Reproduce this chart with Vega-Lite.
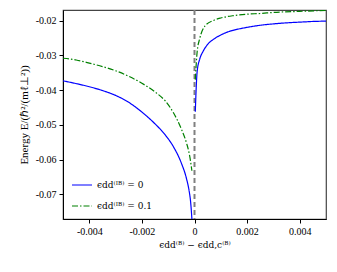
{
  "$schema": "https://vega.github.io/schema/vega-lite/v6.json",
  "width": 263,
  "height": 209,
  "autosize": "none",
  "padding": {"left": 63, "top": 10, "right": 11, "bottom": 53},
  "config": {
    "font": "Liberation Serif",
    "view": {"stroke": "#444444", "strokeWidth": 1.2},
    "axis": {"labelFont": "Liberation Serif", "titleFont": "DejaVu Serif", "labelFontSize": 10, "titleFontSize": 10, "titleFontWeight": "normal", "labelColor": "#000", "titleColor": "#000", "domainColor": "#000", "tickColor": "#000", "grid": false}
  },
  "datasets": {
    "curves": [
      {"x": -0.005, "y": -0.0373, "s": "ϵdd⁽ᴵᴮ⁾ = 0", "b": "BL"},
      {"x": -0.0045, "y": -0.0381, "s": "ϵdd⁽ᴵᴮ⁾ = 0", "b": "BL"},
      {"x": -0.004, "y": -0.0390, "s": "ϵdd⁽ᴵᴮ⁾ = 0", "b": "BL"},
      {"x": -0.0035, "y": -0.0401, "s": "ϵdd⁽ᴵᴮ⁾ = 0", "b": "BL"},
      {"x": -0.003, "y": -0.0415, "s": "ϵdd⁽ᴵᴮ⁾ = 0", "b": "BL"},
      {"x": -0.0025, "y": -0.0435, "s": "ϵdd⁽ᴵᴮ⁾ = 0", "b": "BL"},
      {"x": -0.002, "y": -0.0463, "s": "ϵdd⁽ᴵᴮ⁾ = 0", "b": "BL"},
      {"x": -0.0015, "y": -0.0497, "s": "ϵdd⁽ᴵᴮ⁾ = 0", "b": "BL"},
      {"x": -0.0011, "y": -0.0530, "s": "ϵdd⁽ᴵᴮ⁾ = 0", "b": "BL"},
      {"x": -0.0008, "y": -0.0563, "s": "ϵdd⁽ᴵᴮ⁾ = 0", "b": "BL"},
      {"x": -0.0005, "y": -0.0610, "s": "ϵdd⁽ᴵᴮ⁾ = 0", "b": "BL"},
      {"x": -0.0003, "y": -0.0656, "s": "ϵdd⁽ᴵᴮ⁾ = 0", "b": "BL"},
      {"x": -0.0002, "y": -0.0692, "s": "ϵdd⁽ᴵᴮ⁾ = 0", "b": "BL"},
      {"x": -0.00015, "y": -0.0720, "s": "ϵdd⁽ᴵᴮ⁾ = 0", "b": "BL"},
      {"x": -0.0001, "y": -0.0770, "s": "ϵdd⁽ᴵᴮ⁾ = 0", "b": "BL"},
      {"x": -0.00007, "y": -0.0810, "s": "ϵdd⁽ᴵᴮ⁾ = 0", "b": "BL"},
      {"x": 0.00003, "y": -0.0462, "s": "ϵdd⁽ᴵᴮ⁾ = 0", "b": "BR"},
      {"x": 0.0001, "y": -0.0347, "s": "ϵdd⁽ᴵᴮ⁾ = 0", "b": "BR"},
      {"x": 0.0002, "y": -0.0310, "s": "ϵdd⁽ᴵᴮ⁾ = 0", "b": "BR"},
      {"x": 0.00032, "y": -0.0289, "s": "ϵdd⁽ᴵᴮ⁾ = 0", "b": "BR"},
      {"x": 0.0005, "y": -0.0268, "s": "ϵdd⁽ᴵᴮ⁾ = 0", "b": "BR"},
      {"x": 0.00075, "y": -0.0252, "s": "ϵdd⁽ᴵᴮ⁾ = 0", "b": "BR"},
      {"x": 0.001, "y": -0.0241, "s": "ϵdd⁽ᴵᴮ⁾ = 0", "b": "BR"},
      {"x": 0.00127, "y": -0.0232, "s": "ϵdd⁽ᴵᴮ⁾ = 0", "b": "BR"},
      {"x": 0.0015, "y": -0.0227, "s": "ϵdd⁽ᴵᴮ⁾ = 0", "b": "BR"},
      {"x": 0.002, "y": -0.0219, "s": "ϵdd⁽ᴵᴮ⁾ = 0", "b": "BR"},
      {"x": 0.0025, "y": -0.0213, "s": "ϵdd⁽ᴵᴮ⁾ = 0", "b": "BR"},
      {"x": 0.003, "y": -0.0209, "s": "ϵdd⁽ᴵᴮ⁾ = 0", "b": "BR"},
      {"x": 0.0035, "y": -0.0206, "s": "ϵdd⁽ᴵᴮ⁾ = 0", "b": "BR"},
      {"x": 0.004, "y": -0.0204, "s": "ϵdd⁽ᴵᴮ⁾ = 0", "b": "BR"},
      {"x": 0.0045, "y": -0.0202, "s": "ϵdd⁽ᴵᴮ⁾ = 0", "b": "BR"},
      {"x": 0.005, "y": -0.0201, "s": "ϵdd⁽ᴵᴮ⁾ = 0", "b": "BR"},
      {"x": -0.005, "y": -0.0308, "s": "ϵdd⁽ᴵᴮ⁾ = 0.1", "b": "GL"},
      {"x": -0.0045, "y": -0.0313, "s": "ϵdd⁽ᴵᴮ⁾ = 0.1", "b": "GL"},
      {"x": -0.004, "y": -0.0322, "s": "ϵdd⁽ᴵᴮ⁾ = 0.1", "b": "GL"},
      {"x": -0.0035, "y": -0.0332, "s": "ϵdd⁽ᴵᴮ⁾ = 0.1", "b": "GL"},
      {"x": -0.003, "y": -0.0344, "s": "ϵdd⁽ᴵᴮ⁾ = 0.1", "b": "GL"},
      {"x": -0.0025, "y": -0.0360, "s": "ϵdd⁽ᴵᴮ⁾ = 0.1", "b": "GL"},
      {"x": -0.002, "y": -0.0380, "s": "ϵdd⁽ᴵᴮ⁾ = 0.1", "b": "GL"},
      {"x": -0.0015, "y": -0.0405, "s": "ϵdd⁽ᴵᴮ⁾ = 0.1", "b": "GL"},
      {"x": -0.0011, "y": -0.0432, "s": "ϵdd⁽ᴵᴮ⁾ = 0.1", "b": "GL"},
      {"x": -0.0008, "y": -0.0465, "s": "ϵdd⁽ᴵᴮ⁾ = 0.1", "b": "GL"},
      {"x": -0.0005, "y": -0.0512, "s": "ϵdd⁽ᴵᴮ⁾ = 0.1", "b": "GL"},
      {"x": -0.0003, "y": -0.0553, "s": "ϵdd⁽ᴵᴮ⁾ = 0.1", "b": "GL"},
      {"x": -0.0002, "y": -0.0583, "s": "ϵdd⁽ᴵᴮ⁾ = 0.1", "b": "GL"},
      {"x": -0.00013, "y": -0.0615, "s": "ϵdd⁽ᴵᴮ⁾ = 0.1", "b": "GL"},
      {"x": -0.0001, "y": -0.0632, "s": "ϵdd⁽ᴵᴮ⁾ = 0.1", "b": "GL"},
      {"x": 0.00003, "y": -0.0370, "s": "ϵdd⁽ᴵᴮ⁾ = 0.1", "b": "GR"},
      {"x": 0.0001, "y": -0.0290, "s": "ϵdd⁽ᴵᴮ⁾ = 0.1", "b": "GR"},
      {"x": 0.0002, "y": -0.0251, "s": "ϵdd⁽ᴵᴮ⁾ = 0.1", "b": "GR"},
      {"x": 0.0004, "y": -0.0215, "s": "ϵdd⁽ᴵᴮ⁾ = 0.1", "b": "GR"},
      {"x": 0.00076, "y": -0.0198, "s": "ϵdd⁽ᴵᴮ⁾ = 0.1", "b": "GR"},
      {"x": 0.001, "y": -0.0192, "s": "ϵdd⁽ᴵᴮ⁾ = 0.1", "b": "GR"},
      {"x": 0.0015, "y": -0.0185, "s": "ϵdd⁽ᴵᴮ⁾ = 0.1", "b": "GR"},
      {"x": 0.002, "y": -0.0181, "s": "ϵdd⁽ᴵᴮ⁾ = 0.1", "b": "GR"},
      {"x": 0.0025, "y": -0.0179, "s": "ϵdd⁽ᴵᴮ⁾ = 0.1", "b": "GR"},
      {"x": 0.003, "y": -0.0176, "s": "ϵdd⁽ᴵᴮ⁾ = 0.1", "b": "GR"},
      {"x": 0.004, "y": -0.0173, "s": "ϵdd⁽ᴵᴮ⁾ = 0.1", "b": "GR"},
      {"x": 0.005, "y": -0.0170, "s": "ϵdd⁽ᴵᴮ⁾ = 0.1", "b": "GR"}
    ],
    "vline": [{"x": 0}]
  },
  "layer": [
    {
      "data": {"name": "vline"},
      "mark": {"type": "rule", "color": "#808080", "strokeWidth": 2, "strokeDash": [5, 3]},
      "encoding": {
        "x": {"field": "x", "type": "quantitative", "scale": {"domain": [-0.005, 0.005]}}
      }
    },
    {
      "data": {"name": "curves"},
      "mark": {"type": "line", "clip": true, "strokeWidth": 1.2, "interpolate": "monotone"},
      "encoding": {
        "x": {"field": "x", "type": "quantitative", "scale": {"domain": [-0.005, 0.005], "nice": false, "zero": false},
          "axis": {"values": [-0.004, -0.002, 0, 0.002, 0.004], "labelExpr": "datum.value == 0 ? '0' : replace(format(datum.value, '.3f'), '−', '-')", "title": "ϵdd⁽ᴮ⁾ − ϵdd,c⁽ᴮ⁾", "titleFontSize": 9, "tickSize": 4, "labelPadding": 3, "titlePadding": 4}},
        "y": {"field": "y", "type": "quantitative", "scale": {"domain": [-0.0771, -0.0169], "nice": false, "zero": false},
          "axis": {"values": [-0.07, -0.06, -0.05, -0.04, -0.03, -0.02], "labelExpr": "replace(format(datum.value, '.2f'), '−', '-')", "title": "Energy E/(ℏ²/(mℓ⊥²))", "titleFont": "Liberation Serif", "titleFontSize": 11, "tickSize": 4, "labelPadding": 3, "titlePadding": 6}},
        "detail": {"field": "b"},
        "color": {"field": "s", "type": "nominal", "scale": {"domain": ["ϵdd⁽ᴵᴮ⁾ = 0", "ϵdd⁽ᴵᴮ⁾ = 0.1"], "range": ["#0000ff", "#008000"]},
          "legend": {"title": null, "orient": "bottom-left", "offset": 8, "symbolType": "stroke", "symbolSize": 400, "symbolStrokeWidth": 1.2, "labelFont": "DejaVu Serif", "labelFontSize": 9, "labelColor": "#000", "rowPadding": 5}},
        "strokeDash": {"field": "s", "type": "nominal", "scale": {"domain": ["ϵdd⁽ᴵᴮ⁾ = 0", "ϵdd⁽ᴵᴮ⁾ = 0.1"], "range": [[1, 0], [6, 2, 1.5, 2]]}}
      }
    }
  ]
}
